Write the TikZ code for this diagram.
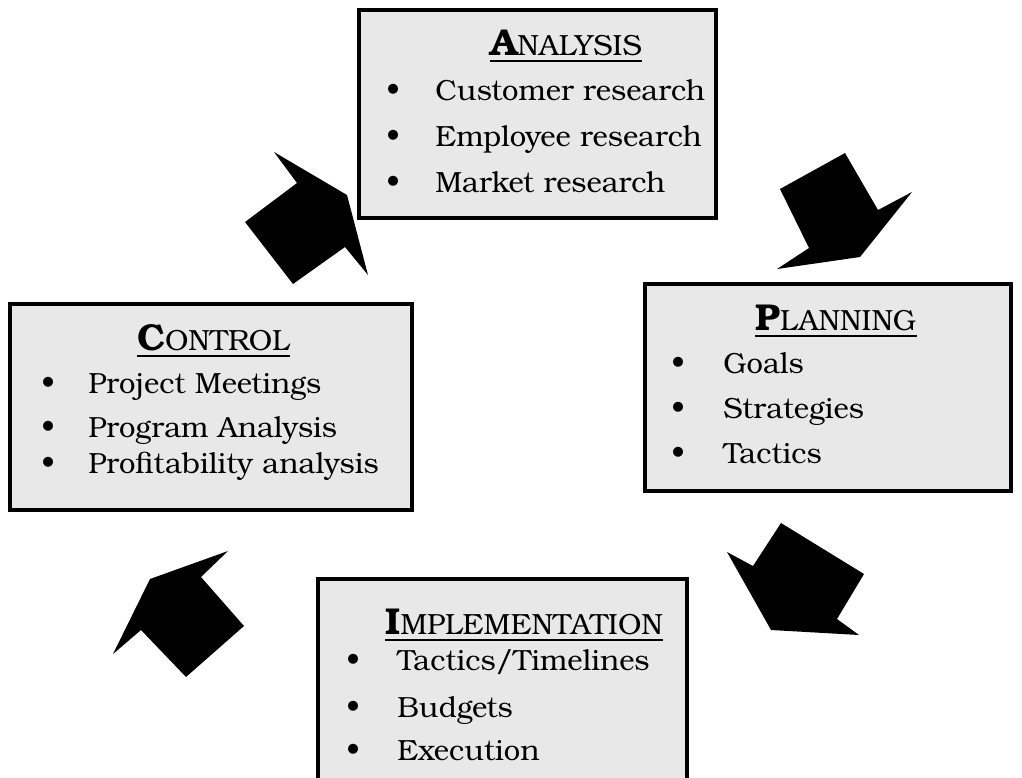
\documentclass[tikz,border=0pt]{standalone}
\usepackage{fontspec}
\setmainfont{TeX Gyre Bonum}
\usetikzlibrary{shadows}

\newcommand{\bodyfont}{\fontsize{16.6}{20}\selectfont}
\newcommand{\initial}[1]{{\fontsize{21.3}{24}\selectfont\bfseries #1}}

\begin{document}
\begin{tikzpicture}[x=0.02cm,y=-0.02cm,
    panel/.style={draw,line width=2pt,fill=black!9,
        drop shadow={shadow xshift=1pt,shadow yshift=-1pt,fill=black!40,opacity=1}},
    head/.style={anchor=base west,inner sep=0pt,font=\bodyfont},
    item/.style={anchor=base west,inner sep=0pt,font=\bodyfont},
    dot/.style={anchor=base,inner sep=0pt,font=\bodyfont},
    blk/.style={fill=black}
]
    \useasboundingbox (0,0) rectangle (1022,778);
    \clip (0,0) rectangle (1022,778);

    % the four boxes
    \node[panel,minimum width=7.15cm,minimum height=4.17cm] (ana) at (537.5,114) {};
    \node[panel,minimum width=7.33cm,minimum height=4.15cm] (pla) at (828,387.5) {};
    \node[panel,minimum width=8.05cm,minimum height=4.13cm] (con) at (211,407) {};
    \node[panel,minimum width=7.39cm,minimum height=4.84cm] (imp) at (502.5,700) {};

    % headings
    \node[head] (anahead) at (490,55) {\initial{A}NALYSIS};
    \node[head] (plahead) at (755,330) {\initial{P}LANNING};
    \node[head] (conhead) at (137,350) {\initial{C}ONTROL};
    \node[head] (imphead) at (385,634) {\initial{I}MPLEMENTATION};
    \foreach \h in {anahead,plahead,conhead,imphead}
        \draw[line width=1.1pt] ([yshift=-3.4pt]\h.base west)--([yshift=-3.4pt]\h.base east);

    % bullet lists
    \foreach \nm/\bx/\tx/\y/\t in {
        ana1/393/435/100/{Customer research},
        ana2/393/435/146/{Employee research},
        ana3/393/435/192/{Market research},
        pla1/678/723/373/{Goals},
        pla2/678/723/418/{Strategies},
        pla3/678/723/463/{Tactics},
        con1/48/88/393/{Project Meetings},
        con2/48/88/437/{Program Analysis},
        con3/48/88/473/{Profitability analysis},
        imp1/353/397/670/{Tactics/Timelines},
        imp2/353/397/717/{Budgets},
        imp3/353/397/760/{Execution}}{
        \node[dot] (\nm-dot) at (\bx,\y) {\textbullet};
        \node[item] (\nm) at (\tx,\y) {\t};
    }

    % block arrows between the boxes
    \fill[blk] (347,195)--(368,275)--(345,247)--(293,284)--(245,222)--(297,183)--(274,152)--cycle;
    \fill[blk] (860,257)--(912,192)--(878,210)--(845,153)--(780,189)--(809,248)--(777,269)--cycle;
    \fill[blk] (771,630)--(859,635)--(837,619)--(864,574)--(781,523)--(753,566)--(727,552)--cycle;
    \fill[blk] (150,579)--(228,551)--(201,577)--(244,626)--(186,677)--(141,630)--(113,654)--cycle;
\end{tikzpicture}
\end{document}
